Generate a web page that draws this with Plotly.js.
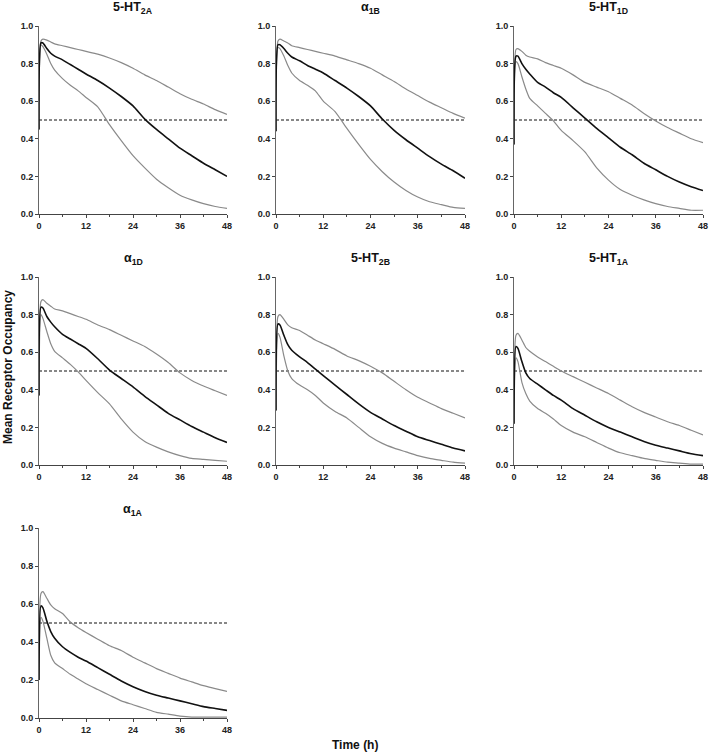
<!DOCTYPE html>
<html>
<head>
<meta charset="utf-8">
<script src="https://cdn.plot.ly/plotly-3.0.1.min.js"></script>
<style>html,body{margin:0;padding:0;background:#fff;}#chart{width:709px;height:756px;}</style>
</head>
<body>
<div id="chart"></div>
<script>
// Time points (h)
const timeH = [0, 0.5, 1, 2, 3, 4, 6, 8, 10, 12, 15, 18, 21, 24, 27, 30, 33, 36, 39, 42, 45, 48];

// Receptor names (titles)
const receptors = ["5-HT<sub>2A</sub>", "α<sub>1B</sub>", "5-HT<sub>1D</sub>", "α<sub>1D</sub>", "5-HT<sub>2B</sub>", "5-HT<sub>1A</sub>", "α<sub>1A</sub>"];

// Median / upper / lower occupancy per receptor
const median_5HT2A = [0.45, 0.91, 0.91, 0.88, 0.855, 0.84, 0.82, 0.795, 0.77, 0.745, 0.71, 0.67, 0.625, 0.575, 0.505, 0.45, 0.40, 0.35, 0.31, 0.27, 0.235, 0.20];
const upper_5HT2A  = [0.60, 0.92, 0.93, 0.925, 0.915, 0.905, 0.895, 0.885, 0.875, 0.865, 0.85, 0.83, 0.805, 0.775, 0.74, 0.71, 0.675, 0.64, 0.61, 0.585, 0.555, 0.53];
const lower_5HT2A  = [0.45, 0.90, 0.89, 0.85, 0.80, 0.765, 0.72, 0.685, 0.655, 0.62, 0.57, 0.475, 0.39, 0.31, 0.245, 0.185, 0.14, 0.10, 0.075, 0.055, 0.04, 0.03];

const median_a1B = [0.44, 0.90, 0.90, 0.88, 0.855, 0.835, 0.815, 0.79, 0.77, 0.75, 0.71, 0.67, 0.625, 0.575, 0.505, 0.445, 0.395, 0.35, 0.305, 0.265, 0.23, 0.19];
const upper_a1B  = [0.60, 0.92, 0.93, 0.92, 0.91, 0.895, 0.885, 0.875, 0.865, 0.855, 0.84, 0.82, 0.80, 0.775, 0.74, 0.705, 0.665, 0.63, 0.595, 0.565, 0.535, 0.51];
const lower_a1B  = [0.44, 0.885, 0.88, 0.84, 0.79, 0.75, 0.71, 0.685, 0.655, 0.60, 0.545, 0.455, 0.37, 0.29, 0.225, 0.17, 0.125, 0.09, 0.065, 0.05, 0.035, 0.03];

const median_5HT1D = [0.37, 0.84, 0.84, 0.80, 0.77, 0.745, 0.70, 0.675, 0.645, 0.62, 0.565, 0.51, 0.455, 0.405, 0.355, 0.315, 0.27, 0.235, 0.20, 0.17, 0.145, 0.125];
const upper_5HT1D  = [0.50, 0.875, 0.88, 0.865, 0.845, 0.835, 0.825, 0.805, 0.79, 0.775, 0.74, 0.70, 0.675, 0.65, 0.615, 0.58, 0.535, 0.495, 0.46, 0.43, 0.40, 0.38];
const lower_5HT1D  = [0.37, 0.81, 0.80, 0.73, 0.665, 0.615, 0.575, 0.535, 0.495, 0.445, 0.39, 0.33, 0.245, 0.18, 0.13, 0.10, 0.075, 0.055, 0.04, 0.03, 0.02, 0.02];

const median_a1D = [0.37, 0.84, 0.835, 0.79, 0.76, 0.735, 0.695, 0.67, 0.645, 0.62, 0.565, 0.505, 0.46, 0.415, 0.365, 0.32, 0.275, 0.24, 0.205, 0.175, 0.145, 0.12];
const upper_a1D  = [0.50, 0.87, 0.88, 0.86, 0.845, 0.83, 0.82, 0.805, 0.79, 0.775, 0.745, 0.72, 0.69, 0.66, 0.63, 0.59, 0.545, 0.49, 0.45, 0.42, 0.395, 0.37];
const lower_a1D  = [0.37, 0.80, 0.78, 0.71, 0.645, 0.605, 0.57, 0.535, 0.495, 0.45, 0.385, 0.325, 0.245, 0.175, 0.125, 0.095, 0.07, 0.05, 0.035, 0.03, 0.025, 0.02];

const median_5HT2B = [0.29, 0.75, 0.745, 0.69, 0.64, 0.61, 0.575, 0.545, 0.51, 0.475, 0.425, 0.375, 0.325, 0.28, 0.245, 0.21, 0.18, 0.15, 0.13, 0.11, 0.09, 0.075];
const upper_5HT2B  = [0.45, 0.79, 0.80, 0.775, 0.745, 0.73, 0.715, 0.69, 0.665, 0.645, 0.615, 0.58, 0.555, 0.525, 0.49, 0.445, 0.40, 0.36, 0.33, 0.30, 0.275, 0.25];
const lower_5HT2B  = [0.29, 0.70, 0.68, 0.58, 0.50, 0.46, 0.425, 0.40, 0.37, 0.33, 0.285, 0.25, 0.20, 0.15, 0.115, 0.09, 0.07, 0.05, 0.035, 0.025, 0.015, 0.01];

const median_5HT1A = [0.22, 0.63, 0.62, 0.55, 0.49, 0.46, 0.43, 0.40, 0.37, 0.345, 0.30, 0.265, 0.23, 0.20, 0.175, 0.15, 0.125, 0.105, 0.09, 0.075, 0.06, 0.05];
const upper_5HT1A  = [0.40, 0.69, 0.70, 0.665, 0.625, 0.605, 0.575, 0.55, 0.525, 0.50, 0.47, 0.44, 0.41, 0.38, 0.345, 0.31, 0.28, 0.255, 0.23, 0.21, 0.185, 0.16];
const lower_5HT1A  = [0.22, 0.57, 0.55, 0.44, 0.38, 0.34, 0.30, 0.275, 0.245, 0.21, 0.175, 0.15, 0.12, 0.09, 0.065, 0.05, 0.035, 0.025, 0.015, 0.01, 0.005, 0.005];

const median_a1A = [0.20, 0.59, 0.58, 0.51, 0.455, 0.42, 0.375, 0.345, 0.32, 0.30, 0.265, 0.23, 0.195, 0.165, 0.14, 0.12, 0.105, 0.09, 0.075, 0.06, 0.05, 0.04];
const upper_a1A  = [0.40, 0.655, 0.665, 0.63, 0.595, 0.575, 0.55, 0.505, 0.475, 0.45, 0.415, 0.38, 0.355, 0.32, 0.29, 0.26, 0.235, 0.21, 0.19, 0.17, 0.155, 0.14];
const lower_a1A  = [0.20, 0.53, 0.51, 0.42, 0.33, 0.29, 0.26, 0.23, 0.205, 0.18, 0.15, 0.12, 0.09, 0.07, 0.05, 0.03, 0.02, 0.01, 0.005, 0.005, 0.005, 0.005];

// 50% reference line
const refX = [0, 48];
const refY = [0.5, 0.5];

// Axis ticks
const xTicks = [0, 12, 24, 36, 48];
const yTicks = [0, 0.2, 0.4, 0.6, 0.8, 1.0];

const panels = [
  [median_5HT2A, upper_5HT2A, lower_5HT2A],
  [median_a1B, upper_a1B, lower_a1B],
  [median_5HT1D, upper_5HT1D, lower_5HT1D],
  [median_a1D, upper_a1D, lower_a1D],
  [median_5HT2B, upper_5HT2B, lower_5HT2B],
  [median_5HT1A, upper_5HT1A, lower_5HT1A],
  [median_a1A, upper_a1A, lower_a1A]
];

const W = 709, H = 756;
const colPx = [[39, 227], [276, 465], [514, 703]];
const rowPx = [[26, 214], [277, 465], [528, 718]];

const traces = [];
const layout = {
  width: W, height: H,
  margin: {l: 0, r: 0, t: 0, b: 0},
  paper_bgcolor: "#fff", plot_bgcolor: "#fff",
  showlegend: false,
  font: {family: "Arial, Liberation Sans, sans-serif", color: "#222"},
  annotations: []
};

panels.forEach((p, i) => {
  const r = Math.floor(i / 3), c = i % 3;
  const n = i === 0 ? "" : String(i + 1);
  const xa = "x" + n, ya = "y" + n;
  const greyColor = "#8a8a8a";
  traces.push({x: refX, y: refY, xaxis: xa, yaxis: ya, mode: "lines", line: {color: "#111", width: 1.1, dash: "3px,2px"}, hoverinfo: "skip"});
  traces.push({x: timeH, y: p[1], xaxis: xa, yaxis: ya, mode: "lines", line: {color: greyColor, width: 1.2, shape: "spline", smoothing: 0.6}});
  traces.push({x: timeH, y: p[2], xaxis: xa, yaxis: ya, mode: "lines", line: {color: greyColor, width: 1.2, shape: "spline", smoothing: 0.6}});
  traces.push({x: timeH, y: p[0], xaxis: xa, yaxis: ya, mode: "lines", line: {color: "#111", width: 1.6, shape: "spline", smoothing: 0.6}});

  const x0 = colPx[c][0] / W, x1 = colPx[c][1] / W;
  const yTop = (H - rowPx[r][0]) / H, yBot = (H - rowPx[r][1]) / H;
  layout["xaxis" + n] = {
    domain: [x0, x1], anchor: ya, range: [0, 48],
    tickvals: xTicks, ticks: "outside", ticklen: 3, tickwidth: 1, tickcolor: "#444",
    showline: true, linecolor: "#444", linewidth: 1, showgrid: false, zeroline: false,
    tickfont: {size: 9, family: "Arial", color: "#222", weight: "bold"},
    minor: {dtick: 6, tick0: 0, ticks: "outside", ticklen: 2, tickcolor: "#444", showgrid: false},
    fixedrange: true
  };
  layout["yaxis" + n] = {
    domain: [yBot, yTop], anchor: xa, range: [0, 1.0],
    tickvals: yTicks, tickformat: ".1f", ticks: "outside", ticklen: 3, tickwidth: 1, tickcolor: "#444",
    showline: true, linecolor: "#666", linewidth: 1, showgrid: false, zeroline: false,
    tickfont: {size: 9, family: "Arial", color: "#222", weight: "bold"},
    fixedrange: true
  };
  layout.annotations.push({
    xref: "paper", yref: "paper", x: (x0 + x1) / 2, y: yTop + 18 / H,
    xanchor: "center", yanchor: "middle", showarrow: false,
    text: "<b>" + receptors[i] + "</b>",
    font: {size: 12.5, family: "Arial", color: "#111"}
  });
});

layout.annotations.push({
  xref: "paper", yref: "paper", x: 355 / W, y: (H - 745) / H,
  xanchor: "center", yanchor: "middle", showarrow: false,
  text: "<b>Time (h)</b>", font: {size: 12, family: "Arial", color: "#111"}
});
layout.annotations.push({
  xref: "paper", yref: "paper", x: 8 / W, y: (H - 367) / H,
  xanchor: "center", yanchor: "middle", showarrow: false, textangle: -90,
  text: "<b>Mean Receptor Occupancy</b>", font: {size: 12, family: "Arial", color: "#111"}
});

Plotly.newPlot("chart", traces, layout, {staticPlot: true, displayModeBar: false});
</script>
</body>
</html>
